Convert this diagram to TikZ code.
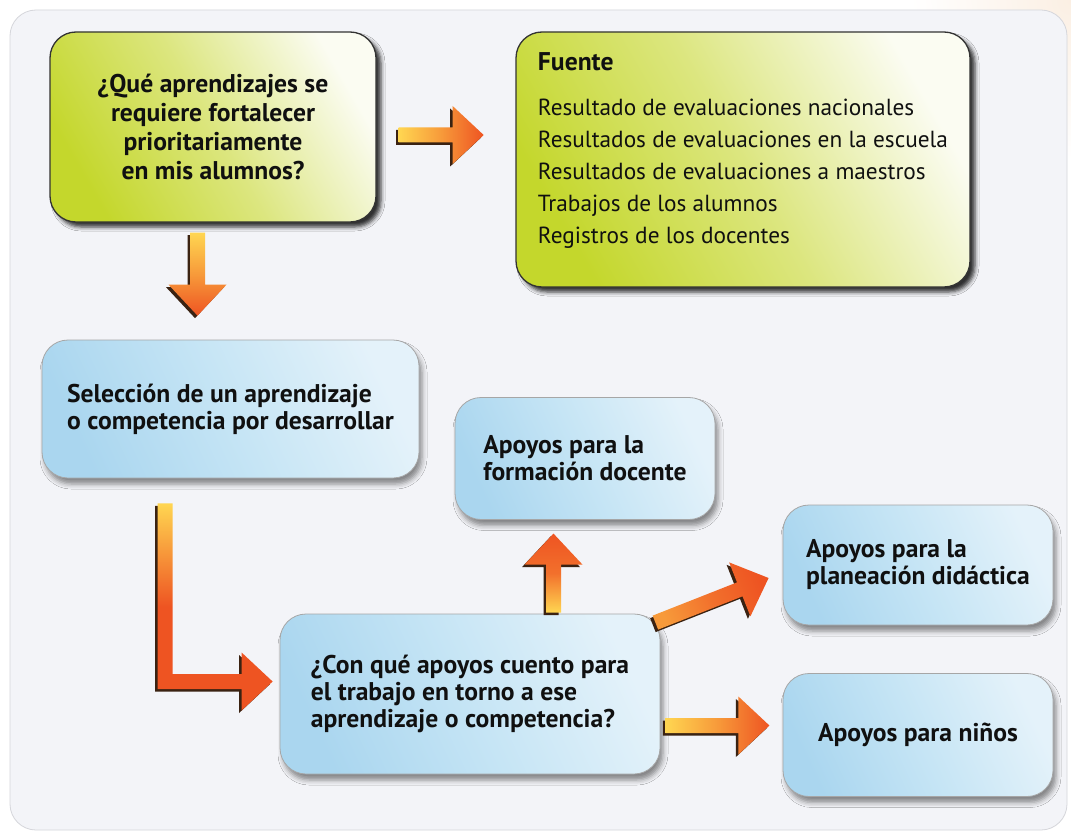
\documentclass[tikz,border=0pt]{standalone}
\usepackage{fontspec}
\setmainfont{PT Sans}
\usetikzlibrary{calc,shadows.blur}
\definecolor{panelfill}{HTML}{F3F4F8}
\definecolor{paneledge}{HTML}{D5D6DB}
\definecolor{gA}{HTML}{C4D72C}
\definecolor{gM}{HTML}{DCE67F}
\definecolor{gB}{HTML}{FBFCF2}
\definecolor{bA}{HTML}{AAD6EF}
\definecolor{bM}{HTML}{C6E5F5}
\definecolor{bB}{HTML}{E4F2FA}
\definecolor{ayel}{HTML}{FFD651}
\definecolor{aora}{HTML}{F79A3A}
\definecolor{aorr}{HTML}{F2702C}
\definecolor{ared}{HTML}{EE5422}
\definecolor{ashadow}{HTML}{3A2212}
\definecolor{txt}{HTML}{101010}
\definecolor{warm}{HTML}{FBEFE3}

\tikzset{
  box/.style={rounded corners=26pt, text=txt, inner sep=0pt, align=left},
  greenbox/.style={box, draw=black!80, line width=1.3pt,
     top color=gB, bottom color=gA, middle color=gM, shading angle=-60,
     blur shadow={shadow xshift=5pt, shadow yshift=-5pt, shadow opacity=80, shadow blur radius=4pt}},
  bluebox/.style={box, draw=black!35, line width=0.8pt,
     top color=bB, bottom color=bA, middle color=bM, shading angle=-65,
     blur shadow={shadow xshift=3pt, shadow yshift=-6pt, shadow opacity=45, shadow blur radius=5pt}},
  qtext/.style={font=\bfseries\fontsize{25.6}{29}\selectfont},
  btext/.style={font=\bfseries\fontsize{25.6}{27}\selectfont},
  ftext/.style={font=\fontsize{23.3}{32}\selectfont},
}

\newcommand\arrowpath[2]{($(#1)!7.5pt!90:(#2)$) -- ($(#1-hb)!7.5pt!90:(#2)$) -- ($(#1-hb)!29pt!90:(#2)$) -- (#2) -- ($(#1-hb)!29pt!-90:(#2)$) -- ($(#1-hb)!7.5pt!-90:(#2)$) -- ($(#1)!7.5pt!-90:(#2)$) -- cycle}
\newcommand\fatarrow[6]{%
  \coordinate (#1-hb) at ($(#2)!31pt!(#1)$);
  \fill[ashadow, transform canvas={shift={(-2.5pt,-2.5pt)}}] \arrowpath{#1}{#2};
  \shade[top color=#4, bottom color=#6, middle color=#5, shading angle=#3] \arrowpath{#1}{#2};
}

\begin{document}
\begin{tikzpicture}[x=1pt,y=-1pt]
\useasboundingbox (0,0) rectangle (1071,832);
\fill[white] (0,0) rectangle (1071,832);
\shade[inner color=warm, outer color=white] (1071,0) circle[radius=160];
\fill[panelfill, draw=paneledge, line width=0.8pt, rounded corners=26pt] (10,10) rectangle (1067,830);

% boxes
\node[greenbox, qtext, align=center, minimum width=326pt, minimum height=190pt] (q1) at (213,127)
  {¿Qué aprendizajes se\\requiere fortalecer\\prioritariamente\\en mis alumnos?};
\node[greenbox, ftext, minimum width=454pt, minimum height=255pt] (q2) at (743,159.5)
  {\textbf{\fontsize{25.6}{32}\selectfont Fuente}\\[13pt]Resultado de evaluaciones nacionales\\Resultados de evaluaciones en la escuela\\Resultados de evaluaciones a maestros\\Trabajos de los alumnos\\Registros de los docentes\rule[-22pt]{0pt}{0pt}};
\node[bluebox, btext, minimum width=377pt, minimum height=138pt] (q3) at (230.5,409)
  {Selección de un aprendizaje\\o competencia por desarrollar};
\node[bluebox, btext, minimum width=260pt, minimum height=122pt] (q4) at (585,458.5)
  {Apoyos para la\\formación docente};
\node[bluebox, btext, minimum width=270pt, minimum height=120pt] (q5) at (918,565)
  {Apoyos para la\\planeación didáctica};
\node[bluebox, btext, minimum width=270pt, minimum height=123pt] (q6) at (918,735)
  {Apoyos para niños};
\node[bluebox, btext, minimum width=380pt, minimum height=160pt] (q7) at (470,694)
  {¿Con qué apoyos cuento para\\el trabajo en torno a ese\\aprendizaje o competencia?};

% arrows
\coordinate (a1) at ($(q1.east)+(22,8)$);
\coordinate (a1t) at ($(a1)+(85,0)$);
\fatarrow{a1}{a1t}{90}{ayel}{aora}{ared}
\coordinate (a2) at ($(q1.south)+(-15.5,10)$);
\coordinate (a2t) at ($(a2)+(0,83)$);
\fatarrow{a2}{a2t}{0}{ayel}{aora}{ared}
\coordinate (a4) at ($(q7.north)+(83.5,-1)$);
\coordinate (a4t) at ($(a4)+(0,-79)$);
\fatarrow{a4}{a4t}{180}{ayel}{aorr}{ared}
\coordinate (a5) at ($(q7.north east)+(-5,9)$);
\coordinate (a5t) at ($(q5.west)+(-14,13)$);
\fatarrow{a5}{a5t}{111.5}{aora}{aorr}{ared}
\coordinate (a6) at ($(q7.east)+(5,31.5)$);
\coordinate (a6t) at ($(a6)+(104,0)$);
\fatarrow{a6}{a6t}{90}{ayel}{aora}{ared}
% L-shaped arrow
\coordinate (l0) at ($(q3.south west)+(123.5,25)$);
\coordinate (l1) at ($(q7.west)+(-7,-12.5)$);
\fill[ashadow, transform canvas={shift={(-2.5pt,-2.5pt)}}]
  ($(l0)+(-7.5,0)$) -- ($(l0)+(7.5,0)$) -- ($(l0|-l1)+(7.5,-7.5)$) -- ($(l1)+(-31,-7.5)$) -- ($(l1)+(-31,-29)$) -- (l1) -- ($(l1)+(-31,29)$) -- ($(l1)+(-31,7.5)$) -- ($(l0|-l1)+(-7.5,7.5)$) -- cycle;
\shade[top color=ayel, bottom color=ared, middle color=ared, shading angle=0]
  ($(l0)+(-7.5,0)$) -- ($(l0)+(7.5,0)$) -- ($(l0|-l1)+(7.5,-7.5)$) -- ($(l1)+(-31,-7.5)$) -- ($(l1)+(-31,-29)$) -- (l1) -- ($(l1)+(-31,29)$) -- ($(l1)+(-31,7.5)$) -- ($(l0|-l1)+(-7.5,7.5)$) -- cycle;
\end{tikzpicture}
\end{document}
